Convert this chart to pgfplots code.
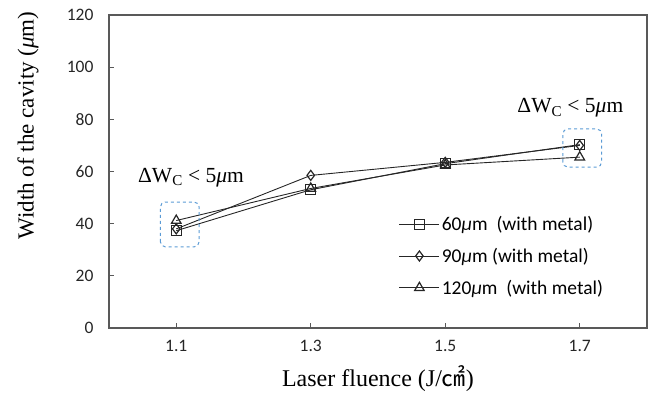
\documentclass[border=0pt]{standalone}
\usepackage{pgfplots}
\pgfplotsset{compat=1.18}
\usepackage{fontspec}
\setmainfont{Liberation Serif}
\newfontfamily\calfont{Carlito}
\newfontfamily\cjk{Noto Sans CJK SC}
\definecolor{boxblue}{RGB}{91,155,213}
\definecolor{axgray}{RGB}{89,89,89}
\begin{document}
\begin{tikzpicture}[x=1pt,y=1pt]
\begin{axis}[
  scale only axis,
  width=538pt, height=313pt,
  xmin=-0.5, xmax=3.5, ymin=0, ymax=120,
  xtick={0,1,2,3},
  xticklabels={1.1,1.3,1.5,1.7},
  ytick={0,20,40,60,80,100,120},
  tick align=inside,
  xtick pos=bottom, ytick pos=left,
  major tick length=5pt,
  axis line style={draw=axgray, line width=1.3pt},
  tick style={axgray, line width=1pt},
  /pgf/number format/assume math mode=true,
  ticklabel style={font=\calfont\fontsize{17.5}{19}\selectfont, text=black!85},
  xticklabel style={yshift=-9pt},
  yticklabel style={xshift=-12pt},
  xlabel={Laser fluence (J/{\cjk ㎠})},
  xlabel style={font=\fontsize{24}{26}\selectfont, yshift=-7pt},
  legend style={draw=none, fill=none, at={(rel axis cs:0.533,0.37)}, anchor=north west,
    font=\calfont\fontsize{19.5}{21}\selectfont, row sep=12pt, cells={anchor=west}},
  legend cell align=left,
  legend image code/.code={\draw[mark repeat=2,mark phase=2] plot coordinates {(0pt,0pt) (20pt,0pt) (40pt,0pt)};},
  every axis plot/.append style={black!85, line width=0.9pt},
  clip=false,
]
\addplot[mark=square, mark size=5pt, mark options={fill=white, line width=1.2pt}] coordinates {(0,37.3) (1,53) (2,63) (3,70.3)};
\addlegendentry{60\textit{μ}m\ \ (with metal)}
\addplot[mark=diamond, mark size=5pt, mark options={fill=white, line width=1.2pt}] coordinates {(0,38) (1,58.5) (2,63.5) (3,70)};
\addlegendentry{90\textit{μ}m (with metal)}
\addplot[mark=triangle, mark size=5.5pt, mark options={fill=white, line width=1.2pt}] coordinates {(0,41.2) (1,53.5) (2,62.5) (3,65.5)};
\addlegendentry{120\textit{μ}m\ \ (with metal)}
\draw[boxblue, dashed, line width=1pt, rounded corners=5pt] (axis cs:-0.118,31.1) rectangle (axis cs:0.17,48.3);
\draw[boxblue, dashed, line width=1pt, rounded corners=5pt] (axis cs:2.874,61.7) rectangle (axis cs:3.163,76.3);
\node[font=\fontsize{21.5}{23}\selectfont] at (axis cs:0.11,57.5) {ΔW\textsubscript{C} < 5\textit{μ}m};
\node[font=\fontsize{21.5}{23}\selectfont] at (axis cs:2.93,84.3) {ΔW\textsubscript{C} < 5\textit{μ}m};
\node[rotate=90, font=\fontsize{23}{25}\selectfont] at (rel axis cs:-0.1506,0.647) {Width of the cavity (\textit{μ}m)};
\end{axis}
\pgfresetboundingbox
\path (current axis.south west) ++(-109pt,-68pt) rectangle ++(656pt,396pt);
\end{tikzpicture}
\end{document}
